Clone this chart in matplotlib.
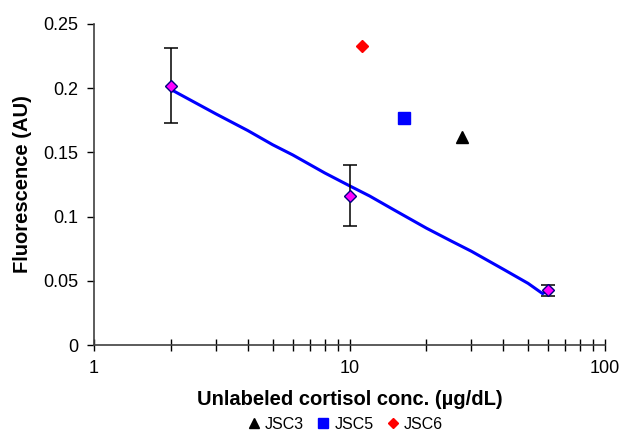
import numpy as np
import matplotlib.pyplot as plt
from matplotlib.ticker import FixedLocator, NullFormatter

plt.rcParams['font.family'] = ['Liberation Sans', 'DejaVu Sans']

# calibration points
conc = [2, 10, 60]
fluor = [0.202, 0.116, 0.043]
err_lo = [0.029, 0.023, 0.005]
err_hi = [0.029, 0.024, 0.004]

# fitted curve
fit_x = [2, 3, 4, 5, 6, 8, 10, 12, 15, 20, 25, 30, 40, 50, 57, 60]
fit_y = [0.199, 0.180, 0.167, 0.156, 0.148, 0.134, 0.124, 0.116, 0.105, 0.091, 0.081, 0.073, 0.059, 0.048, 0.040, 0.043]

# samples
samples = ['JSC3', 'JSC5', 'JSC6']
sample_x = [27.6, 16.3, 11.2]
sample_y = [0.162, 0.177, 0.233]
sample_style = [('^', 'black', 8), ('s', '#0000FF', 8), ('D', '#FF0000', 6)]

fig = plt.figure(figsize=(6.22, 4.34), dpi=100)
ax = fig.add_axes([94 / 622, 1 - 345 / 434, 511 / 622, 321 / 434])

ax.plot(fit_x, fit_y, color='#0000FF', lw=2.2, zorder=2)
ax.errorbar(conc, fluor, yerr=[err_lo, err_hi], fmt='none', ecolor='black',
            elinewidth=1.1, capsize=5, capthick=1.1, zorder=3)
ax.plot(conc, fluor, 'D', ms=6, mfc='#FF00FF', mec='#000080', mew=1, ls='none', zorder=4)

for name, x, y, (m, c, ms) in zip(samples, sample_x, sample_y, sample_style):
    ax.plot(x, y, m, color=c, ms=ms, ls='none', label=name, zorder=4)

ax.set_xscale('log')
ax.set_xlim(1, 100)
ax.set_ylim(0, 0.25)
ax.set_yticks([0, 0.05, 0.1, 0.15, 0.2, 0.25])
ax.set_yticklabels(['0', '0.05', '0.1', '0.15', '0.2', '0.25'])
ax.set_xticks([1, 10, 100])
ax.set_xticklabels(['1', '10', '100'])
ax.xaxis.set_minor_locator(FixedLocator([m * d for d in (1, 10) for m in range(2, 10)]))
ax.xaxis.set_minor_formatter(NullFormatter())

for s in ['top', 'right']:
    ax.spines[s].set_visible(False)
for s in ['left', 'bottom']:
    ax.spines[s].set_color('#404040')
    ax.spines[s].set_linewidth(1.2)

ax.tick_params(axis='x', which='both', direction='inout', length=8, width=1, colors='black',
               labelsize=13, pad=7)
ax.tick_params(axis='y', direction='out', length=5, width=1, labelsize=13, pad=6)

ax.set_xlabel('Unlabeled cortisol conc. (µg/dL)', fontsize=14.5, fontweight='bold', labelpad=9)
ax.set_ylabel('Fluorescence (AU)', fontsize=14.5, fontweight='bold', labelpad=8)

fig.legend(loc='lower center', bbox_to_anchor=(0.555, -0.028), ncol=3, frameon=False,
           fontsize=11.5, handletextpad=0.3, columnspacing=0.8, handlelength=0.8,
           markerscale=0.85)

fig.savefig('out.png', dpi=100)
